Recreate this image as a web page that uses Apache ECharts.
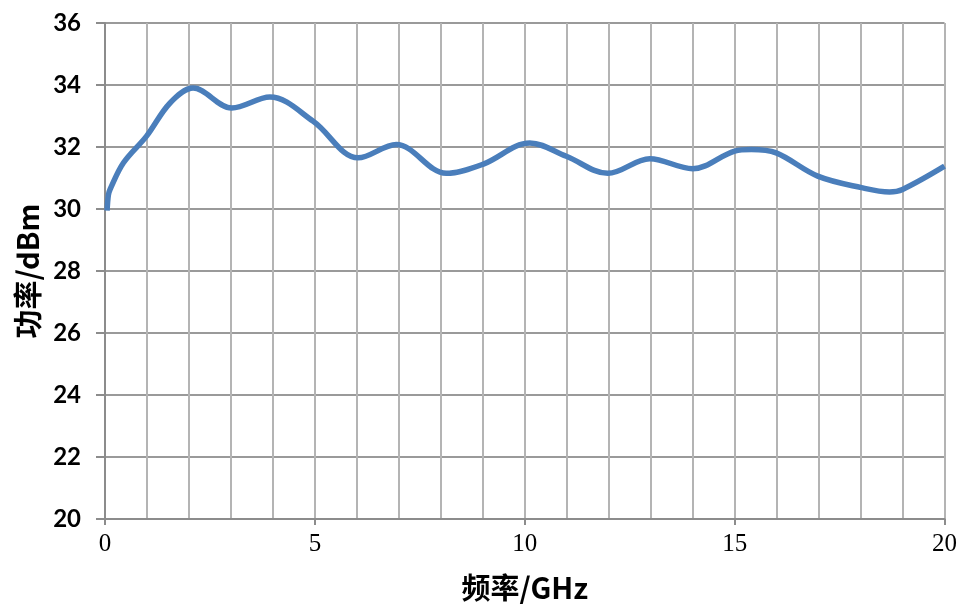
<!DOCTYPE html>
<html>
<head>
<meta charset="utf-8">
<script src="https://cdn.jsdelivr.net/npm/echarts@6/dist/echarts.min.js"></script>
<style>html,body{margin:0;padding:0;background:#fff;}#c{width:960px;height:607px;}</style>
</head>
<body>
<div id="c"></div>
<script>
var freqGHz = [0.05, 0.08, 0.12, 0.44, 0.99, 1.55, 2.1, 3.02, 3.93, 4.96, 6.03, 6.94, 8.13, 9.0, 10.12, 10.99, 11.98, 12.98, 14.0, 15.0, 15.4, 15.99, 16.98, 18.02, 18.69, 19.0, 20.0];
var powerDbm = [29.95, 30.45, 30.63, 31.49, 32.35, 33.42, 33.9, 33.26, 33.61, 32.83, 31.65, 32.08, 31.15, 31.44, 32.13, 31.7, 31.15, 31.62, 31.3, 31.87, 31.92, 31.81, 31.06, 30.69, 30.55, 30.63, 31.38];
var yTicks = [20, 22, 24, 26, 28, 30, 32, 34, 36];
var xTicks = [0, 5, 10, 15, 20];

var data = freqGHz.map(function (f, i) { return [f, powerDbm[i]]; });
var chart = echarts.init(document.getElementById('c'));
chart.setOption({
  animation: false,
  grid: { left: 105, right: 15, top: 23, bottom: 86 },
  xAxis: [{
    type: 'value', min: 0, max: 20, interval: 1,
    axisLine: { show: false },
    axisTick: { show: false },
    axisLabel: { show: false },
    splitLine: { show: true, lineStyle: { color: '#b4b4b4', width: 2 } }
  }, {
    type: 'value', min: 0, max: 20, interval: 5, position: 'bottom',
    name: '频率/GHz', nameLocation: 'middle', nameGap: 54,
    nameTextStyle: { fontFamily: 'Noto Sans CJK SC', fontWeight: 'bold', fontSize: 29, color: '#000' },
    axisLine: { show: true, lineStyle: { color: '#8c8c8c', width: 2 } },
    axisTick: { show: true, length: 6, lineStyle: { color: '#8c8c8c', width: 2 } },
    axisLabel: { margin: 13, fontFamily: 'Liberation Serif', fontSize: 25, color: '#000',
      formatter: function (v) { return xTicks.indexOf(v) >= 0 ? String(v) : ''; } },
    splitLine: { show: false }
  }],
  yAxis: {
    type: 'value', min: 20, max: 36, interval: 2,
    name: '功率/dBm', nameLocation: 'middle', nameGap: 61,
    nameTextStyle: { fontFamily: 'Noto Sans CJK SC', fontWeight: 'bold', fontSize: 29, color: '#000' },
    axisLine: { show: true, lineStyle: { color: '#8c8c8c', width: 2 } },
    axisTick: { show: true, length: 9, lineStyle: { color: '#8c8c8c', width: 2 } },
    axisLabel: { margin: 24, fontFamily: 'Lato', fontWeight: 'bold', fontSize: 24, color: '#000',
      formatter: function (v) { return yTicks.indexOf(v) >= 0 ? String(v) : ''; } },
    splitLine: { show: true, lineStyle: { color: '#9a9a9a', width: 2 } }
  },
  series: [{
    type: 'line', xAxisIndex: 1, data: data, smooth: 0.35, symbol: 'none',
    lineStyle: { color: '#4a7ebb', width: 5.5 }
  }]
});
</script>
</body>
</html>
